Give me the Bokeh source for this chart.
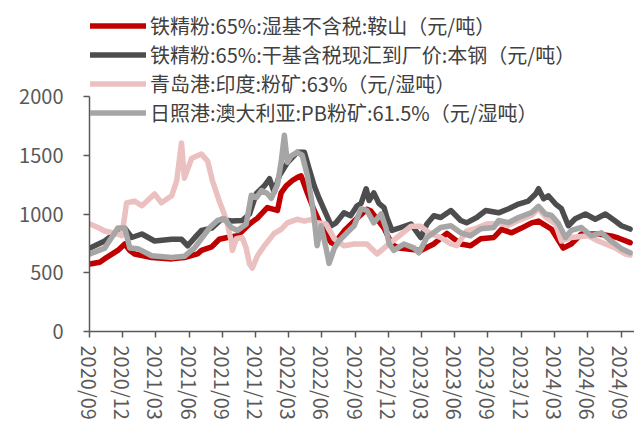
import pandas as pd
from bokeh.plotting import figure
from bokeh.models import Range1d, FixedTicker, DatetimeTickFormatter, Legend, LegendItem
from bokeh.embed import file_html
from bokeh.resources import INLINE

# ---- series data (date, price) ----
anshan_dates = ["2020-09-01", "2020-09-28", "2020-10-12", "2020-11-17", "2020-12-06", "2020-12-20",
                "2021-01-02", "2021-02-18", "2021-04-14", "2021-05-19", "2021-06-24", "2021-07-05",
                "2021-08-02", "2021-08-23", "2021-09-14", "2021-10-12", "2021-11-14", "2021-12-06",
                "2022-01-02", "2022-01-30", "2022-02-09", "2022-02-23", "2022-03-12", "2022-03-25",
                "2022-04-05", "2022-04-22", "2022-05-11", "2022-06-07", "2022-06-27", "2022-07-05",
                "2022-08-01", "2022-09-06", "2022-10-03", "2022-10-14", "2022-11-19", "2022-12-11",
                "2022-12-30", "2023-02-28", "2023-04-05", "2023-05-11", "2023-06-18", "2023-07-15",
                "2023-08-12", "2023-09-17", "2023-10-08", "2023-11-05", "2023-12-02", "2023-12-30",
                "2024-01-18", "2024-02-23", "2024-03-26", "2024-04-17", "2024-05-15", "2024-06-30",
                "2024-08-05", "2024-08-24", "2024-09-26"]
anshan_vals = [575, 590, 620, 690, 745, 690,
               660, 630, 618, 630, 660, 690,
               720, 785, 800, 815, 915, 965,
               1055, 1030, 1180, 1240, 1285, 1310,
               1325, 1180, 1030, 850, 755, 745,
               855, 965, 1040, 1025, 880, 740,
               710, 690, 745, 835, 745, 730,
               790, 800, 870, 840, 880, 925,
               940, 870, 710, 745, 830, 830,
               813, 796, 756]

benxi_dates = ["2020-09-01", "2020-10-12", "2020-11-17", "2020-12-06", "2020-12-25", "2021-01-22",
               "2021-02-26", "2021-04-14", "2021-05-11", "2021-05-28", "2021-06-24", "2021-07-05",
               "2021-08-02", "2021-08-29", "2021-09-25", "2021-10-25", "2021-11-14", "2021-12-03",
               "2021-12-25", "2022-01-08", "2022-01-21", "2022-02-04", "2022-02-26", "2022-03-25",
               "2022-04-14", "2022-04-27", "2022-05-11", "2022-05-25", "2022-06-07", "2022-06-27",
               "2022-07-10", "2022-08-01", "2022-08-19", "2022-09-06", "2022-09-17", "2022-10-01",
               "2022-10-09", "2022-10-22", "2022-11-05", "2022-11-19", "2022-11-27", "2022-12-11",
               "2023-01-04", "2023-02-01", "2023-02-28", "2023-03-17", "2023-04-05", "2023-04-24",
               "2023-05-22", "2023-06-18", "2023-07-04", "2023-08-01", "2023-08-26", "2023-09-30",
               "2023-10-28", "2023-11-24", "2023-12-21", "2024-01-10", "2024-01-18", "2024-02-01",
               "2024-02-14", "2024-03-05", "2024-03-21", "2024-04-09", "2024-04-28", "2024-05-26",
               "2024-06-22", "2024-07-20", "2024-08-16", "2024-09-02", "2024-09-26"]
benxi_vals = [710, 770, 855, 880, 800, 830,
              770, 785, 785, 730, 825, 860,
              880, 955, 940, 945, 1000, 1175,
              1240, 1300, 1185, 1325, 1435, 1525,
              1525, 1385, 1240, 1130, 1040, 900,
              925, 1010, 985, 1070, 1090, 1215,
              1115, 1180, 1090, 1055, 970, 860,
              885, 915, 800, 915, 985, 970,
              1030, 945, 925, 970, 1030, 1010,
              1045, 1085, 1110, 1170, 1215, 1130,
              1155, 1085, 1045, 900, 960, 1000,
              955, 1000, 940, 900, 872]

qingdao_dates = ["2020-09-01", "2020-09-23", "2020-10-12", "2020-11-17", "2020-11-28", "2020-12-11",
                 "2021-01-02", "2021-01-22", "2021-02-26", "2021-03-17", "2021-04-14", "2021-04-28",
                 "2021-05-11", "2021-05-19", "2021-06-08", "2021-07-05", "2021-07-22", "2021-08-04",
                 "2021-08-23", "2021-09-06", "2021-09-14", "2021-09-25", "2021-09-28", "2021-10-09",
                 "2021-10-25", "2021-11-05", "2021-11-14", "2021-11-22", "2021-12-06", "2021-12-25",
                 "2022-01-21", "2022-02-09", "2022-02-26", "2022-03-25", "2022-04-14", "2022-05-03",
                 "2022-05-19", "2022-06-13", "2022-07-05", "2022-08-01", "2022-08-29", "2022-10-03",
                 "2022-10-31", "2022-11-27", "2022-12-25", "2023-02-01", "2023-02-28", "2023-03-28",
                 "2023-04-24", "2023-05-22", "2023-06-07", "2023-07-04", "2023-08-01", "2023-08-28",
                 "2023-09-30", "2023-10-28", "2023-11-24", "2023-12-30", "2024-01-18", "2024-02-06",
                 "2024-03-05", "2024-03-21", "2024-04-17", "2024-06-03", "2024-06-30", "2024-08-16",
                 "2024-09-12", "2024-09-26"]
qingdao_vals = [915, 885, 855, 830, 815, 1095,
                1110, 1070, 1170, 1095, 1155, 1285,
                1605, 1305, 1475, 1510, 1450, 1285,
                1110, 995, 915, 770, 690, 790,
                800, 710, 575, 540, 645, 730,
                835, 870, 925, 955, 940, 955,
                925, 915, 790, 730, 745, 745,
                660, 730, 800, 895, 895, 830,
                800, 745, 730, 855, 880, 915,
                920, 905, 945, 990, 1045, 975,
                915, 770, 800, 815, 770, 712,
                660, 650]

rizhao_dates = ["2020-09-01", "2020-10-12", "2020-11-17", "2020-12-06", "2020-12-20", "2021-01-11",
                "2021-02-18", "2021-04-14", "2021-05-19", "2021-06-16", "2021-07-05", "2021-07-28",
                "2021-08-18", "2021-09-06", "2021-09-25", "2021-10-12", "2021-11-05", "2021-11-19",
                "2021-12-03", "2021-12-17", "2022-01-02", "2022-01-13", "2022-01-30", "2022-02-09",
                "2022-02-18", "2022-02-26", "2022-03-09", "2022-03-25", "2022-04-08", "2022-04-22",
                "2022-05-03", "2022-05-11", "2022-05-19", "2022-05-30", "2022-06-13", "2022-06-21",
                "2022-07-05", "2022-07-18", "2022-08-09", "2022-08-29", "2022-09-17", "2022-10-03",
                "2022-10-22", "2022-11-11", "2022-11-24", "2022-12-03", "2022-12-16", "2023-01-13",
                "2023-02-09", "2023-02-23", "2023-03-17", "2023-04-24", "2023-05-22", "2023-06-18",
                "2023-07-15", "2023-08-12", "2023-09-17", "2023-09-30", "2023-10-28", "2023-11-24",
                "2023-12-30", "2024-01-18", "2024-02-06", "2024-02-23", "2024-03-13", "2024-04-01",
                "2024-04-17", "2024-05-15", "2024-06-11", "2024-07-09", "2024-08-05", "2024-09-02",
                "2024-09-26"]
rizhao_vals = [660, 710, 880, 880, 710, 705,
               645, 630, 640, 712, 790, 885,
               945, 960, 885, 860, 915, 1160,
               1140, 1200, 1175, 1133, 1250, 1440,
               1670, 1440, 1495, 1525, 1500, 1330,
               1135, 960, 730, 900, 705, 580,
               705, 770, 840, 900, 1045, 1030,
               925, 1000, 885, 745, 690, 745,
               712, 670, 800, 885, 900, 840,
               815, 875, 885, 945, 927, 970,
               1013, 1065, 1000, 987, 918, 800,
               860, 885, 815, 840, 770, 705,
               670]

series_names = ["铁精粉:65%:湿基不含税:鞍山（元/吨）",
                "铁精粉:65%:干基含税现汇到厂价:本钢（元/吨）",
                "青岛港:印度:粉矿:63%（元/湿吨）",
                "日照港:澳大利亚:PB粉矿:61.5%（元/湿吨）"]
series_colors = ["#C00000", "#4D4D4F", "#EBC0C0", "#A6A6A6"]

x_tick_labels = ["2020/09", "2020/12", "2021/03", "2021/06", "2021/09", "2021/12",
                 "2022/03", "2022/06", "2022/09", "2022/12", "2023/03", "2023/06", "2023/09",
                 "2023/12", "2024/03", "2024/06", "2024/09"]
y_ticks = [0, 500, 1000, 1500, 2000]

FONT = "Noto Sans CJK SC"
AXIS_COLOR = "#595959"

p = figure(width=634, height=430, x_axis_type="datetime",
           output_backend="svg", toolbar_location=None,
           min_border_left=89, min_border_right=0, min_border_top=10, min_border_bottom=99)
p.x_range = Range1d(pd.Timestamp("2020-08-31"), pd.Timestamp("2024-10-08"))
p.y_range = Range1d(0, 2732)

renderers = []
for d, v, c in zip([anshan_dates, benxi_dates, qingdao_dates, rizhao_dates],
                   [anshan_vals, benxi_vals, qingdao_vals, rizhao_vals],
                   series_colors):
    r = p.line(pd.to_datetime(d), v, line_color=c, line_width=5.5,
               line_join="round", line_cap="round")
    renderers.append(r)

legend = Legend(items=[LegendItem(label=n, renderers=[r]) for n, r in zip(series_names, renderers)],
                location="top_left", margin=1, padding=0, spacing=0,
                glyph_width=56, glyph_height=29, label_height=29, label_standoff=4,
                label_text_font=FONT, label_text_font_size="20px", label_text_color="#404040",
                background_fill_alpha=0, border_line_alpha=0)
p.add_layout(legend)

# axes
tick_ms = [pd.Timestamp(t.replace("/", "-") + "-01").value // 10**6 for t in x_tick_labels]
p.xaxis.ticker = FixedTicker(ticks=tick_ms)
fmt = "%Y/%m"
p.xaxis.formatter = DatetimeTickFormatter(milliseconds=fmt, seconds=fmt, minsec=fmt, minutes=fmt,
                                          hourmin=fmt, hours=fmt, days=fmt, months=fmt, years=fmt)
p.xaxis.major_label_orientation = "vertical"
p.yaxis.ticker = FixedTicker(ticks=y_ticks)
p.yaxis.bounds = (0, 2000)

for ax in (p.xaxis[0], p.yaxis[0]):
    ax.axis_line_color = AXIS_COLOR
    ax.axis_line_width = 1.5
    ax.major_tick_line_color = AXIS_COLOR
    ax.major_tick_line_width = 1.5
    ax.major_tick_in = 0
    ax.minor_tick_line_color = None
    ax.major_label_text_font = FONT
    ax.major_label_text_color = AXIS_COLOR
    ax.major_label_text_font_size = "20px"
p.xaxis.major_tick_out = 6
p.yaxis.major_tick_out = 6
p.xaxis.major_label_standoff = 8
p.yaxis.major_label_standoff = 20

p.xgrid.grid_line_color = None
p.ygrid.grid_line_color = None
p.outline_line_color = None
p.background_fill_color = "white"
p.border_fill_color = "white"

open("out.html", "w").write(file_html(p, INLINE))
